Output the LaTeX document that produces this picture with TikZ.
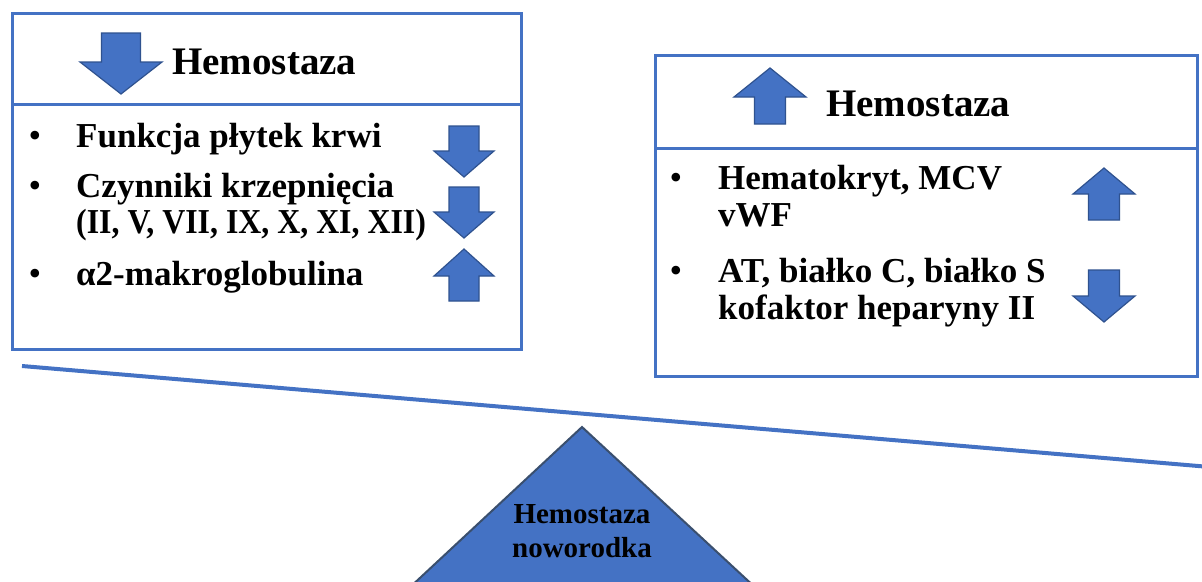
\documentclass[tikz,border=0pt]{standalone}
\usepackage{fontspec}
\usepackage{graphicx}
\setmainfont{Liberation Serif}
\definecolor{officeblue}{HTML}{4472C4}
\definecolor{arrowedge}{HTML}{2F528F}
\definecolor{triedge}{HTML}{3A4F6E}
\newcommand\BlockArr[6]{% cx, base y, shaft half, head half, head base y, tip y
  \draw[arrowfill] ({#1-#3},#2) -- ({#1+#3},#2) -- ({#1+#3},#5) -- ({#1+#4},#5) -- (#1,#6) -- ({#1-#4},#5) -- ({#1-#3},#5) -- cycle;}
\begin{document}
\begin{tikzpicture}[x=1pt,y=-1pt,
  boxline/.style={draw=officeblue,line width=3pt},
  arrowfill/.style={fill=officeblue,draw=arrowedge,line width=1.2pt,line join=miter},
  headtext/.style={anchor=base west,inner sep=0pt,font=\fontsize{39}{44}\selectfont\bfseries},
  itemtext/.style={anchor=base west,inner sep=0pt,font=\fontsize{35}{37}\selectfont\bfseries},
  bulletmark/.style={anchor=base,inner sep=0pt,font=\fontsize{36}{38}\selectfont},
  beam/.style={draw=officeblue,line width=4pt},
  tri/.style={fill=officeblue,draw=triedge,line width=2pt,line join=miter},
  tritext/.style={anchor=base,inner sep=0pt,font=\fontsize{29}{34}\selectfont\bfseries}]
\useasboundingbox (0,0) rectangle (1202,581);
\clip (0,0) rectangle (1202,581);
\fill[white] (0,0) rectangle (1202,581);

% left box
\draw[boxline] (12,13) rectangle (521,349);
\draw[boxline] (12,104) -- (521,104);
\BlockArr{121}{33}{19.5}{41}{62}{94}
\node[headtext] (lh) at (172,74) {Hemostaza};
\node[bulletmark] (lb1) at (35,147) {•};
\node[itemtext] (l1) at (76,147) {Funkcja płytek krwi};
\node[bulletmark] (lb2) at (35,197) {•};
\node[itemtext] (l2a) at (76,197) {Czynniki krzepnięcia};
\node[itemtext] (l2b) at (76,233) {\scalebox{0.91}[1]{(II, V, VII, IX, X, XI, XII)}};
\node[bulletmark] (lb3) at (35,285) {•};
\node[itemtext] (l3) at (76,285) {α2-makroglobulina};
\BlockArr{464}{126}{15}{30}{151}{177}
\BlockArr{464}{187}{15}{30}{212}{238}
\BlockArr{464}{301}{15}{30}{276}{249}

% right box
\draw[boxline] (655,55) rectangle (1197,376);
\draw[boxline] (655,148) -- (1197,148);
\BlockArr{770}{124}{15.5}{36}{97}{68}
\node[headtext] (rh) at (826,116) {Hemostaza};
\node[bulletmark] (rb1) at (676,189) {•};
\node[itemtext] (r1a) at (718,189) {Hematokryt, MCV};
\node[itemtext] (r1b) at (718,226) {vWF};
\node[bulletmark] (rb2) at (676,282) {•};
\node[itemtext] (r2a) at (718,282) {AT, białko C, białko S};
\node[itemtext] (r2b) at (718,319) {kofaktor heparyny II};
\BlockArr{1104}{220}{15.5}{31}{194}{168}
\BlockArr{1104}{270}{15.5}{31}{296}{322}

% beam
\coordinate (b1) at (22,366);
\coordinate (b2) at (1210,467);
\draw[beam] (b1) -- (b2);

% fulcrum
\coordinate (apex) at (582,427);
\coordinate (bl) at (407,590);
\coordinate (br) at (758,590);
\draw[tri] (apex) -- (br) -- (bl) -- cycle;
\node[tritext] (tt1) at (582,523) {Hemostaza};
\node[tritext] (tt2) at (582,557) {noworodka};
\end{tikzpicture}
\end{document}
